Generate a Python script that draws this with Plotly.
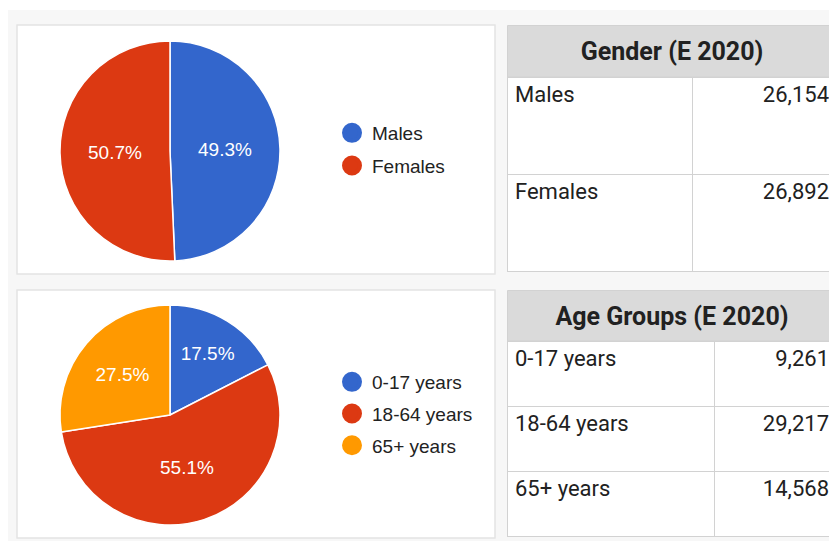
import plotly.graph_objects as go

# page body has an 8px margin, so the figure starts at (8, 8) of the window
OFF = 8
W, H = 837 - OFF, 541 - OFF

# ---- data ----
gender_labels = ["Males", "Females"]
gender_values = [26154, 26892]
gender_display = ["26,154", "26,892"]

age_labels = ["0-17 years", "18-64 years", "65+ years"]
age_values = [9261, 29217, 14568]
age_display = ["9,261", "29,217", "14,568"]

gender_colors = ["#3366cc", "#dc3912"]
age_colors = ["#3366cc", "#dc3912", "#ff9900"]

gender_title = "Gender (E 2020)"
age_title = "Age Groups (E 2020)"


def px(x):
    return (x - OFF) / W


def py(y):
    return 1 - (y - OFF) / H


fig = go.Figure()

pie_font = dict(family="Arial", size=19, color="white")

fig.add_trace(go.Pie(
    labels=gender_labels, values=gender_values, sort=False, direction="clockwise",
    marker=dict(colors=gender_colors, line=dict(color="white", width=1.5)),
    texttemplate="%{percent:.1%}", textposition="inside", insidetextorientation="horizontal",
    textfont=pie_font,
    domain=dict(x=[px(60), px(280)], y=[py(261), py(41)]),
    showlegend=False, hoverinfo="label+value+percent",
))
fig.add_trace(go.Pie(
    labels=age_labels, values=age_values, sort=False, direction="clockwise",
    marker=dict(colors=age_colors, line=dict(color="white", width=1.5)),
    texttemplate="%{percent:.1%}", textposition="inside", insidetextorientation="horizontal",
    textfont=pie_font,
    domain=dict(x=[px(60), px(280)], y=[py(525), py(305)]),
    showlegend=False, hoverinfo="label+value+percent",
))

# legend entries (circle markers)
for i, (lab, col) in enumerate(zip(gender_labels, gender_colors)):
    fig.add_trace(go.Scatter(x=[None], y=[None], mode="markers", name=lab,
                             marker=dict(color=col, size=16, symbol="circle",
                                         line=dict(color=col, width=4)),
                             legend="legend", legendgroup="g%d" % i))
for i, (lab, col) in enumerate(zip(age_labels, age_colors)):
    fig.add_trace(go.Scatter(x=[None], y=[None], mode="markers", name=lab,
                             marker=dict(color=col, size=16, symbol="circle",
                                         line=dict(color=col, width=4)),
                             legend="legend2", legendgroup="a%d" % i))

# tables
hdr_fill = "#dadada"
line_col = "#d2d2d2"
txt_col = "#212121"
body_font = dict(family="Roboto", size=22, color=txt_col)
shapes = [
    dict(type="rect", xref="paper", yref="paper", x0=0, x1=1, y0=0, y1=py(10),
         fillcolor="#f7f7f7", line=dict(width=0), layer="below"),
    dict(type="rect", xref="paper", yref="paper", x0=px(17), x1=px(495), y0=py(274), y1=py(25),
         fillcolor="white", line=dict(color="#e4e4e4", width=1.5), layer="below"),
    dict(type="rect", xref="paper", yref="paper", x0=px(17), x1=px(495), y0=py(538), y1=py(290),
         fillcolor="white", line=dict(color="#e4e4e4", width=1.5), layer="below"),
]


def add_table(title, labels, disp, top, hdr_h, row_h, col1):
    right = 837
    # header band
    shapes.append(dict(type="rect", xref="paper", yref="paper",
                       x0=px(507.5), x1=px(right + 2), y0=py(top + hdr_h), y1=py(top + 0.5),
                       fillcolor=hdr_fill, line=dict(color=line_col, width=1), layer="below"))
    fig.add_trace(go.Table(
        domain=dict(x=[px(507), px(right)], y=[py(top + hdr_h + 4), py(top + 4)]),
        columnwidth=[1],
        header=dict(values=["<b>%s</b>" % title], height=hdr_h - 4,
                    fill_color="rgba(0,0,0,0)",
                    line=dict(color="rgba(0,0,0,0)", width=0), align="center",
                    font=dict(family="Roboto", size=25, color=txt_col)),
        cells=dict(values=[[]]),
    ))
    fig.add_trace(go.Table(
        domain=dict(x=[px(507), px(right)],
                    y=[py(top + hdr_h + row_h * len(labels) + 1), py(top + hdr_h)]),
        columnwidth=[col1, right - 507 - col1],
        header=dict(values=[labels[0], disp[0]], height=row_h, fill_color="white",
                    line=dict(color=line_col, width=1), align=["left", "right"],
                    font=body_font),
        cells=dict(values=[labels[1:], disp[1:]], height=row_h, fill_color="white",
                   line=dict(color=line_col, width=1), align=["left", "right"],
                   font=body_font),
    ))


add_table(gender_title, gender_labels, gender_display, 25, 52, 97, 185)
add_table(age_title, age_labels, age_display, 290, 51, 65, 207)

leg_font = dict(family="Arial", size=19, color="#222222")
fig.update_layout(
    width=W, height=H, margin=dict(l=0, r=0, t=0, b=0),
    paper_bgcolor="white", plot_bgcolor="rgba(0,0,0,0)",
    shapes=shapes,
    xaxis=dict(visible=False), yaxis=dict(visible=False),
    legend=dict(x=px(332), y=py(114), xanchor="left", yanchor="top",
                bgcolor="rgba(0,0,0,0)", tracegroupgap=5, font=leg_font),
    legend2=dict(x=px(332), y=py(363), xanchor="left", yanchor="top",
                 bgcolor="rgba(0,0,0,0)", tracegroupgap=4, font=leg_font),
)

fig.write_html("out.html")
